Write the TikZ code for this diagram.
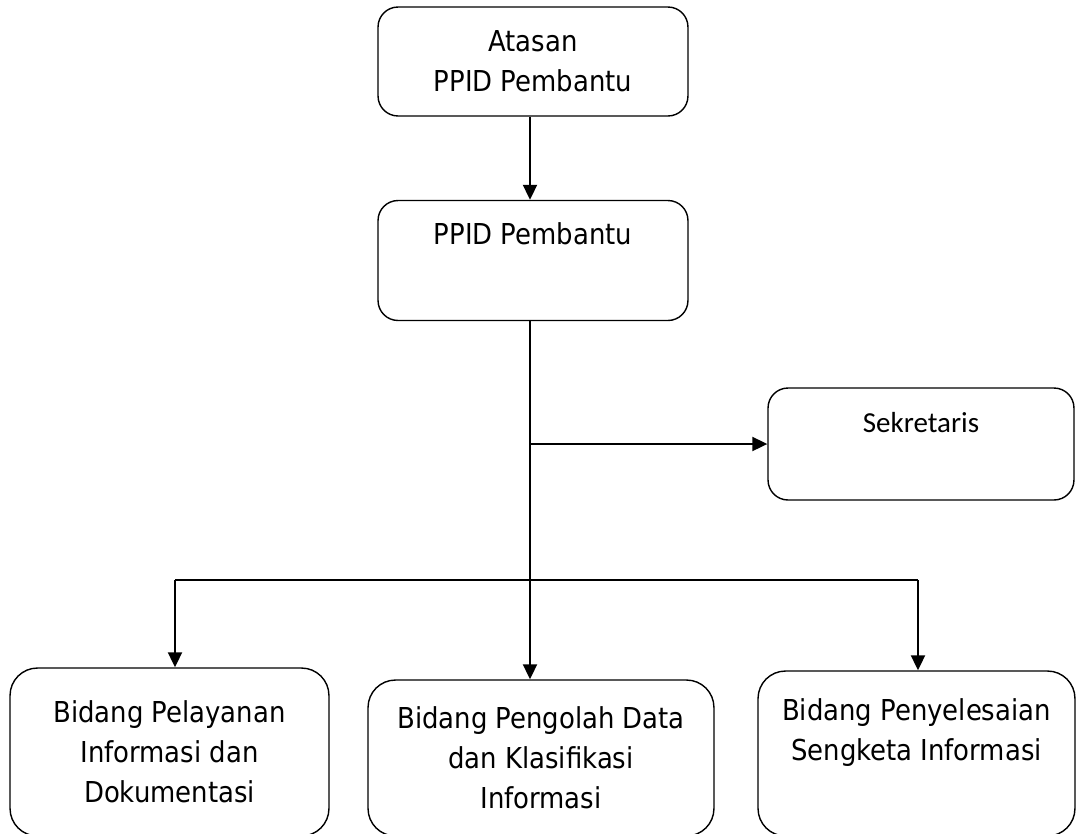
\documentclass[tikz,border=0pt]{standalone}
\usepackage{fontspec}
\usepackage{tikz}
\usetikzlibrary{arrows.meta,positioning,calc}
\newfontfamily\tahoma{DejaVu Sans Condensed}
\newfontfamily\calibri{Carlito}

\tikzset{
    kotak/.style={draw, rounded corners=0.4cm, line width=0.8pt, align=center,
        font=\tahoma\fontsize{16.4}{22.8}\selectfont, inner sep=0pt},
    kotakbawah/.style={kotak, rounded corners=0.55cm},
    conn/.style={line width=1.1pt},
    arr/.style={conn, -{Triangle[length=0.3cm,width=0.28cm]}}
}

\begin{document}
\begin{tikzpicture}[x=0.02cm, y=-0.02cm]
    \useasboundingbox (0,0) rectangle (1076,833);
    \node[kotak, minimum width=6.2cm, minimum height=2.18cm] (atasan) at (533,61.5) {Atasan\\PPID Pembantu};
    \node[kotak, minimum width=6.2cm, minimum height=2.4cm, text height=0.44cm, text depth=1.08cm] (ppid) at (533,260.5) {PPID Pembantu};
    \node[kotak, minimum width=6.12cm, minimum height=2.24cm, text height=0.44cm, text depth=0.92cm,
        font=\calibri\fontsize{16.5}{20}\selectfont] (sekretaris) at (921,444) {Sekretaris};
    \node[kotakbawah, minimum width=6.38cm, minimum height=3.36cm] (pelayanan) at (169.5,752) {Bidang Pelayanan\\Informasi dan\\Dokumentasi};
    \node[kotakbawah, minimum width=6.92cm, minimum height=3.12cm] (pengolah) at (541,758) {Bidang Pengolah Data\\dan Klasifikasi\\Informasi};
    \node[kotakbawah, minimum width=6.34cm, minimum height=3.3cm] (sengketa) at (916.5,753.5) {Bidang Penyelesaian\\Sengketa Informasi\\[4pt]\mbox{}};
    % garis penghubung
    \coordinate (spine) at (530,580);
    \coordinate (barL) at (175,580);
    \coordinate (barR) at (918,580);
    \draw[arr] (atasan.south -| spine) -- (ppid.north -| spine);
    \draw[arr] (ppid.south -| spine) -- (pengolah.north -| spine);
    \draw[arr] (sekretaris.west -| spine) -- (sekretaris.west);
    \draw[conn] (barL) -- (barR);
    \draw[arr] (barL) -- (barL |- pelayanan.north);
    \draw[arr] (barR) -- (barR |- sengketa.north);
\end{tikzpicture}
\end{document}
